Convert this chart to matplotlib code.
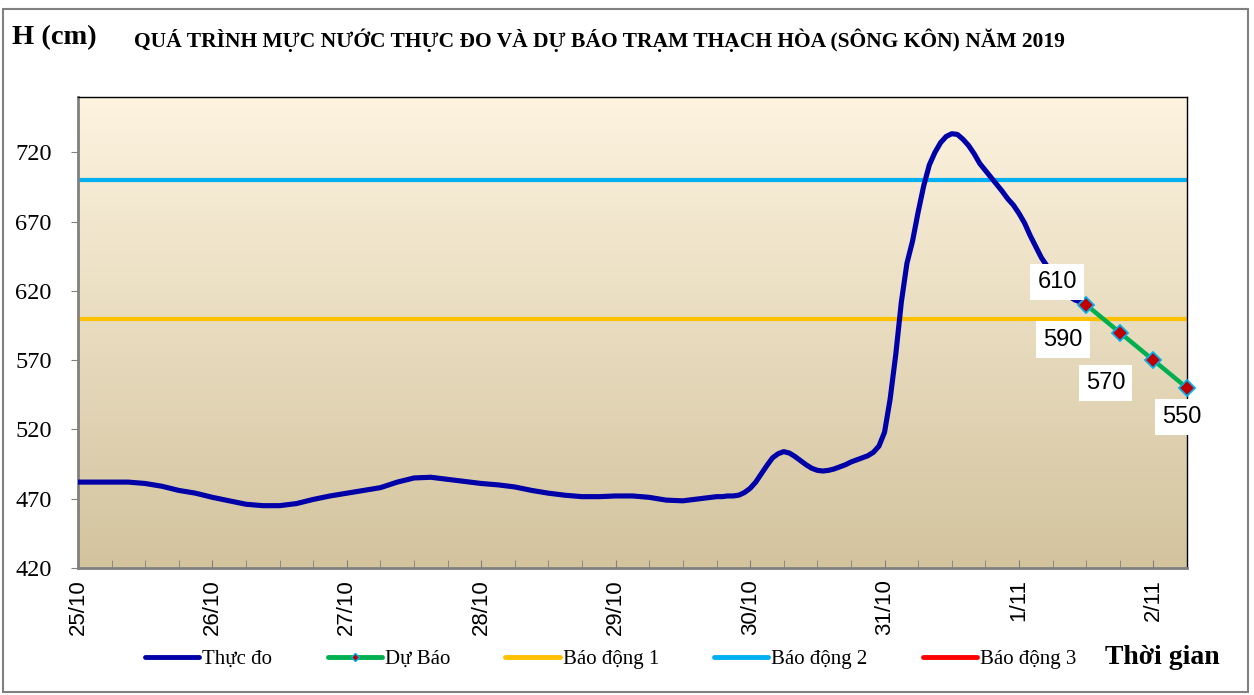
import matplotlib
matplotlib.use('Agg')
import matplotlib.pyplot as plt
import numpy as np
from matplotlib.lines import Line2D
from matplotlib.patches import Rectangle

# observed water level (hours since 25/10 00h, cm)
obs_hours = [0, 3, 6, 9, 12, 15, 18, 21, 24, 27, 30, 33, 36, 39, 42, 45, 48, 51, 54, 57,
             60, 63, 66, 69, 72, 75, 78, 81, 84, 87, 90, 93, 96, 99, 102, 105, 108, 111,
             114, 115, 116, 117, 118, 119, 120, 121, 122, 123, 124, 125, 126, 127, 128, 129,
             130, 131, 132, 133, 134, 135, 136, 137, 138, 139, 140, 141, 142, 143, 144, 145,
             146, 147, 148, 149, 150, 151, 152, 153, 154, 155, 156, 157, 158, 159, 160, 161,
             162, 163, 164, 165, 166, 167, 168, 169, 170, 171, 172, 173, 174, 175, 176, 177,
             178, 179, 180]
obs_level = [482, 482, 482, 482, 481, 479, 476, 474, 471, 468.5, 466, 465, 465, 466.5, 469.5, 472, 474, 476, 478, 482,
             485, 485.5, 484, 482.5, 481, 480, 478.5, 476, 474, 472.5, 471.5, 471.5, 472, 472, 471, 469, 468.5, 470,
             471.5, 471.5, 472, 472, 472.6, 474.5, 477.5, 482, 488, 494, 499.5, 502.5, 504, 503, 500.5, 497.5,
             494.5, 492, 490.5, 490, 490.5, 491.5, 493, 494.5, 496.5, 498, 499.5, 501, 503.5, 508, 518, 542,
             574, 612, 640, 656, 677, 696, 711, 720, 727, 731.5, 733.5, 733, 729.5, 725, 719, 712,
             707, 702, 697, 692, 686.5, 682, 676, 669, 660, 652, 644, 638, 631, 625, 619.5, 616,
             613.5, 612, 610]

# forecast
fc_hours = [180, 186, 192, 198]
fc_level = [610, 590, 570, 550]

alarm1 = 600
alarm2 = 700

day_labels = ['25/10', '26/10', '27/10', '28/10', '29/10', '30/10', '31/10', '1/11', '2/11']
y_ticks = [420, 470, 520, 570, 620, 670, 720]

serif = 'Liberation Serif'
sans = 'Liberation Sans'

fig = plt.figure(figsize=(12.54, 6.95), dpi=100)
ax = fig.add_axes([78 / 1254, 1 - 568 / 695, (1187 - 78) / 1254, (568 - 97) / 695])

# gradient background
grad = np.linspace(0, 1, 256).reshape(-1, 1)
top_c = np.array([253, 243, 223]) / 255
bot_c = np.array([211, 196, 158]) / 255
img = top_c[None, None, :] * (1 - grad[:, :, None]) + bot_c[None, None, :] * grad[:, :, None]
ax.imshow(img, extent=[0, 1, 0, 1], transform=ax.transAxes, aspect='auto', zorder=0)

ax.axhline(alarm1, color='#FFC000', lw=3, zorder=2)
ax.axhline(alarm2, color='#00B0F0', lw=3, zorder=2)
ax.plot(obs_hours, obs_level, color='#0000A8', lw=3.7, solid_capstyle='round',
        solid_joinstyle='round', zorder=3)
ax.plot(fc_hours, fc_level, color='#00B050', lw=3.2, marker='D', markersize=8,
        markerfacecolor='#C00000', markeredgecolor='#00B0F0', markeredgewidth=1.3,
        zorder=4, clip_on=False)

offsets = [(-29, 23), (-57, -7), (-48, -23), (-5, -29)]
for h, v, off in zip(fc_hours, fc_level, offsets):
    ax.annotate(str(v), (h, v), xytext=off, textcoords='offset pixels', ha='center', va='center',
                fontsize=17, family=sans, zorder=5,
                bbox=dict(boxstyle='square,pad=0.3', fc='white', ec='none'))

ax.set_xlim(0, 198)
ax.set_ylim(420, 760)
ax.set_xticks(np.arange(0, 198, 6), minor=True)
ax.set_xticks(np.arange(len(day_labels)) * 24)
ax.set_xticklabels(day_labels, rotation=90, family=sans, fontsize=16)
ax.tick_params(axis='x', which='both', direction='in', length=6, color='#808080', pad=8)
ax.set_yticks(y_ticks)
ax.set_yticklabels([str(v) for v in y_ticks], family=serif, fontsize=17.5)
ax.tick_params(axis='y', direction='out', length=5, color='#808080', pad=14)

for s in ['left', 'bottom']:
    ax.spines[s].set_color('#808080')
    ax.spines[s].set_linewidth(2)
for s in ['top', 'right']:
    ax.spines[s].set_color('black')
    ax.spines[s].set_linewidth(1)

fig.text(12 / 1254, 1 - 38 / 695, 'H (cm)', family=serif, fontsize=20.5, fontweight='bold',
         ha='left', va='center')
fig.text(599 / 1254, 1 - 40 / 695,
         'QUÁ TRÌNH MỰC NƯỚC THỰC ĐO VÀ DỰ BÁO TRẠM THẠCH HÒA (SÔNG KÔN) NĂM 2019',
         family=serif, fontsize=15.5, fontweight='bold', ha='center', va='center')
fig.text(1105 / 1254, 1 - 657 / 695, 'Thời gian', family=serif, fontsize=20, fontweight='bold',
         ha='left', va='center')

handles = [
    Line2D([], [], color='#0000A8', lw=3.5, solid_capstyle='round'),
    Line2D([], [], color='#00B050', lw=3.5, marker='D', markersize=4, markerfacecolor='#C00000',
           markeredgecolor='#00B0F0', solid_capstyle='round'),
    Line2D([], [], color='#FFC000', lw=3.5, solid_capstyle='round'),
    Line2D([], [], color='#00B0F0', lw=3.5, solid_capstyle='round'),
    Line2D([], [], color='#FF0000', lw=3.5, solid_capstyle='round'),
]
names = ['Thực đo', 'Dự Báo', 'Báo động 1', 'Báo động 2', 'Báo động 3']
fig.legend(handles, names, loc='center left', bbox_to_anchor=(145 / 1254, 1 - 659 / 695), ncol=5,
           frameon=False, prop={'family': serif, 'size': 15}, handlelength=2.6, handletextpad=0.15,
           columnspacing=2.65, borderaxespad=0, borderpad=0)

fig.add_artist(Rectangle((3 / 1254, 3 / 695), 1245 / 1254, 683 / 695, transform=fig.transFigure,
                         fill=False, ec='#808080', lw=1.5))

fig.savefig('out.png', dpi=100)
